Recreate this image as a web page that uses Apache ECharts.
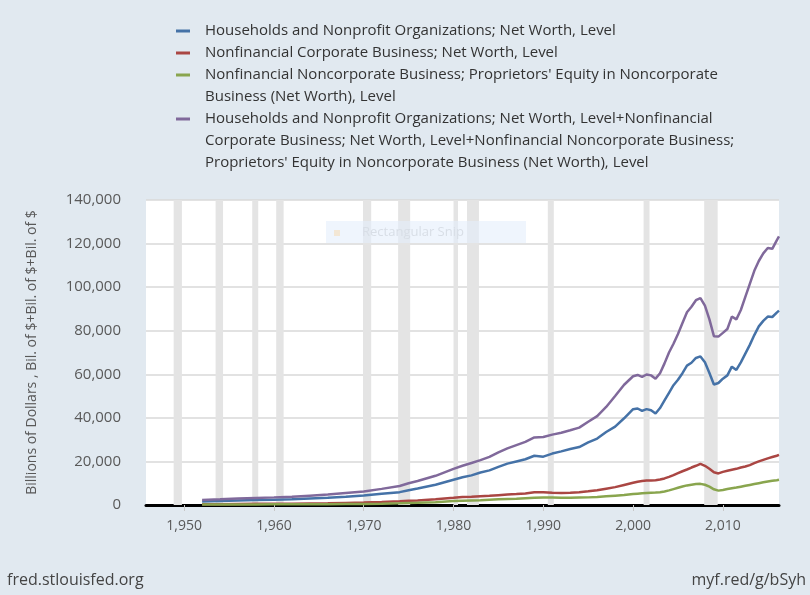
<!DOCTYPE html>
<html>
<head>
<meta charset="utf-8">
<script src="https://cdn.jsdelivr.net/npm/echarts@6/dist/echarts.min.js"></script>
<style>
html,body{margin:0;padding:0;background:#e1e9f0;}
#c{width:810px;height:595px;}
</style>
</head>
<body>
<div id="c"></div>
<script>
// ---- data ----
const years = [1952,1954,1956,1958,1960,1962,1964,1966,1968,1970,1972,1974,1975,1976,1978,1980,1981,1982,1983,1984,1985,1986,1987,1988,1989,1990,1991,1992,1993,1994,1995,1996,1997,1998,1999,2000,2000.5,2001,2001.5,2002,2002.5,2003,2003.5,2004,2004.5,2005,2005.5,2006,2006.5,2007,2007.5,2008,2008.5,2009,2009.5,2010,2010.5,2011,2011.5,2012,2012.5,2013,2013.5,2014,2014.5,2015,2015.5,2016,2016.25];

const households = [1650,1850,2100,2250,2450,2650,3000,3300,3800,4400,5200,5900,6800,7600,9300,11600,12700,13600,14900,15900,17500,19000,20000,21000,22600,22200,23600,24600,25700,26600,28700,30500,33500,36000,39800,44000,44300,43200,44000,43500,42000,44500,48000,51500,55000,57500,60500,64000,65300,67500,68200,65500,60600,55300,56000,58000,59500,63500,62000,65500,69500,73500,78000,82000,84500,86500,86300,88300,89200];

const corporate = [350,400,480,520,560,600,700,800,950,1100,1350,1700,1900,2100,2600,3300,3700,3800,4000,4200,4500,4800,5000,5300,5800,5900,5600,5500,5600,5900,6300,6800,7500,8200,9200,10200,10700,11000,11200,11300,11400,11700,12200,12900,13700,14600,15500,16300,17200,18000,18900,18000,16600,15000,14500,15200,15700,16200,16600,17200,17700,18300,19200,20000,20700,21400,22000,22600,23000];

const noncorporate = [200,220,250,270,290,310,340,380,430,500,620,800,900,1000,1300,1800,2000,2100,2200,2400,2600,2800,2900,3100,3300,3400,3400,3300,3300,3400,3500,3700,4000,4300,4600,5000,5200,5400,5500,5600,5700,5900,6200,6700,7300,7900,8500,9000,9300,9600,9700,9300,8400,7200,6600,6900,7300,7700,8000,8400,8800,9200,9600,10000,10400,10800,11100,11400,11600];

const combined = [2300,2600,3000,3250,3500,3800,4300,4800,5500,6200,7400,8700,10000,11000,13400,16600,18000,19300,20600,22100,24200,26000,27500,29000,31000,31200,32300,33200,34300,35500,38200,40800,45000,50000,55200,59100,59700,58800,59900,59500,58000,60500,65000,70000,74000,78500,83500,88500,91000,94000,95000,91500,85200,77500,77300,79000,80800,86500,85200,89500,95500,101500,107500,112000,115500,118000,117600,121500,123300];

const seriesNames = [
  "Households and Nonprofit Organizations; Net Worth, Level",
  "Nonfinancial Corporate Business; Net Worth, Level",
  "Nonfinancial Noncorporate Business; Proprietors' Equity in Noncorporate Business (Net Worth), Level",
  "Households and Nonprofit Organizations; Net Worth, Level+Nonfinancial Corporate Business; Net Worth, Level+Nonfinancial Noncorporate Business; Proprietors' Equity in Noncorporate Business (Net Worth), Level"
];
const legendLines = [
  ["Households and Nonprofit Organizations; Net Worth, Level"],
  ["Nonfinancial Corporate Business; Net Worth, Level"],
  ["Nonfinancial Noncorporate Business; Proprietors' Equity in Noncorporate", "Business (Net Worth), Level"],
  ["Households and Nonprofit Organizations; Net Worth, Level+Nonfinancial", "Corporate Business; Net Worth, Level+Nonfinancial Noncorporate Business;", "Proprietors' Equity in Noncorporate Business (Net Worth), Level"]
];
const recessions = [[1948.83,1949.75],[1953.5,1954.33],[1957.58,1958.25],[1960.25,1961.08],[1969.92,1970.83],[1973.83,1975.17],[1980.0,1980.5],[1981.5,1982.83],[1990.5,1991.17],[2001.17,2001.83],[2007.92,2009.42]];
const xTicks = [1950,1960,1970,1980,1990,2000,2010];
const yAxisName = "Billions of Dollars , Bil. of $+Bil. of $+Bil. of $";
const colors = ['#4572a7','#aa4643','#89a54e','#80699b'];

// ---- chart ----
const FONT = 'Open Sans';
const valueSets = [households, corporate, noncorporate, combined];
const rich = { g: { width: 15 }, sp: { width: 29 }, t: { fontSize: 15, lineHeight: 22, color: '#333', fontFamily: FONT } };
colors.forEach((c, i) => { rich['m' + i] = { width: 14, height: 3, backgroundColor: c, lineHeight: 22 }; });

const chart = echarts.init(document.getElementById('c'), null, { renderer: 'canvas' });
const option = {
  backgroundColor: '#e1e9f0',
  animation: false,
  textStyle: { fontFamily: FONT },
  grid: { left: 146, right: 31, top: 200, bottom: 90, show: true, backgroundColor: '#ffffff', borderWidth: 0, outerBoundsMode: 'none' },
  legend: {
    orient: 'vertical', left: 171, top: 20, padding: 0, itemGap: 0,
    icon: 'none', itemWidth: 0, itemHeight: 22, selectedMode: false,
    data: seriesNames,
    formatter: function (name) {
      const i = seriesNames.indexOf(name);
      return legendLines[i].map((ln, k) => (k === 0 ? '{m' + i + '| }{g| }' : '{sp| }') + '{t|' + ln + '}').join('\n');
    },
    textStyle: { fontFamily: FONT, fontSize: 15, lineHeight: 22, color: '#333', rich: rich }
  },
  xAxis: {
    type: 'value', min: 1945.75, max: 2016.25,
    axisLine: { onZero: false, lineStyle: { color: '#000', width: 3 } },
    axisTick: { show: true, length: 6, lineStyle: { color: '#c8c8c8' }, customValues: xTicks },
    axisLabel: { customValues: xTicks, color: '#595959', fontSize: 14, margin: 14, fontFamily: FONT },
    splitLine: { show: false }
  },
  yAxis: {
    type: 'value', min: 0, max: 140000, interval: 20000,
    name: yAxisName, nameLocation: 'middle', nameGap: 107,
    nameTextStyle: { color: '#595959', fontSize: 14, fontFamily: FONT },
    axisLine: { show: false }, axisTick: { show: false },
    axisLabel: { color: '#595959', fontSize: 15, margin: 25, fontFamily: FONT, formatter: v => v.toLocaleString('en-US') },
    splitLine: { lineStyle: { color: '#d9d9d9', width: 1.5 } }
  },
  series: valueSets.map((vals, i) => ({
    name: seriesNames[i], type: 'line', showSymbol: false, symbol: 'none',
    color: colors[i], lineStyle: { width: 2.5, color: colors[i] },
    data: years.map((y, k) => [y, vals[k]]),
    z: 3 + i,
    markArea: i === 0 ? { silent: true, itemStyle: { color: '#e4e4e4' }, data: recessions.map(r => [{ xAxis: r[0] }, { xAxis: r[1] }]) } : undefined
  })),
  graphic: [
    { type: 'text', left: 7, top: 572, style: { text: 'fred.stlouisfed.org', fill: '#444', fontSize: 16, fontFamily: FONT } },
    { type: 'text', right: 4, top: 572, style: { text: 'myf.red/g/bSyh', fill: '#444', fontSize: 16, fontFamily: FONT } },
    { type: 'rect', shape: { x: 326, y: 221, width: 200, height: 22 }, style: { fill: 'rgba(228,238,252,0.6)' }, z: 100 },
    { type: 'rect', shape: { x: 334, y: 230, width: 6, height: 6 }, style: { fill: 'rgba(245,225,195,0.7)' }, z: 101 },
    { type: 'text', x: 362, y: 232, style: { text: 'Rectangular Snip', fill: '#d8dee6', fontSize: 13, fontFamily: FONT, verticalAlign: 'middle' }, z: 101 }
  ]
};
chart.setOption(option);
</script>
</body>
</html>
